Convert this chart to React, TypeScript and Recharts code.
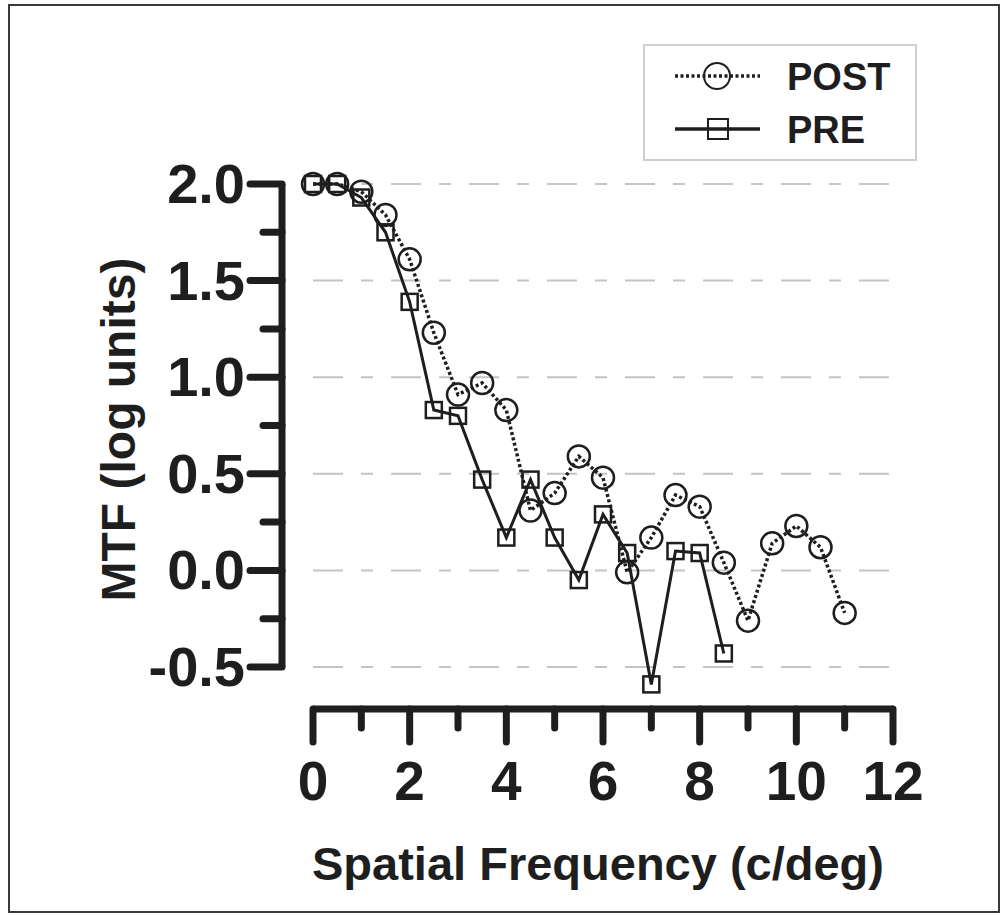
import { LineChart, Line, XAxis, YAxis, CartesianGrid, Legend } from 'recharts'

const FREQ = [0, 0.5, 1, 1.5, 2, 2.5, 3, 3.5, 4, 4.5, 5, 5.5, 6, 6.5, 7, 7.5, 8, 8.5, 9, 9.5, 10, 10.5, 11]
const POST = [2.0, 2.0, 1.96, 1.84, 1.61, 1.23, 0.91, 0.97, 0.83, 0.31, 0.4, 0.59, 0.48, -0.01, 0.17, 0.39, 0.33, 0.04, -0.26, 0.14, 0.23, 0.12, -0.22]
const PRE = [2.0, 2.0, 1.93, 1.75, 1.39, 0.83, 0.8, 0.47, 0.17, 0.47, 0.17, -0.05, 0.29, 0.09, -0.59, 0.1, 0.09, -0.43]

const X_TICKS = [0, 1, 2, 3, 4, 5, 6, 7, 8, 9, 10, 11, 12]
const Y_TICKS = [-0.5, -0.25, 0, 0.25, 0.5, 0.75, 1, 1.25, 1.5, 1.75, 2]
const Y_MAJOR = [-0.5, 0, 0.5, 1, 1.5, 2]
const SERIES_ORDER = ['POST', 'PRE']

const postData = POST.map((v, i) => ({ f: FREQ[i], mtf: v }))
const preData = PRE.map((v, i) => ({ f: FREQ[i], mtf: v }))

const INK = '#1e1e1e'
const FONT = '"Liberation Sans", Arial, Helvetica, sans-serif'

// offset axes (axis lines sit away from the data area)
const X_SHIFT = 42
const Y_SHIFT = 31

const XTick = ({ x, y, payload }: any) => {
  const major = payload.value % 2 === 0
  const y0 = y + X_SHIFT
  return (
    <g>
      <line x1={x} x2={x} y1={y0} y2={y0 + (major ? 33 : 19)} stroke={INK} strokeWidth={7} strokeLinecap="round" />
      {major && (
        <text x={x} y={y0 + 91} textAnchor="middle" fontFamily={FONT} fontWeight="bold" fontSize={55} fill={INK}>
          {payload.value}
        </text>
      )}
    </g>
  )
}

const YTick = ({ x, y, payload }: any) => {
  const major = Y_MAJOR.includes(payload.value)
  const x0 = x - Y_SHIFT
  return (
    <g>
      <line x1={x0} x2={x0 - (major ? 32 : 19)} y1={y} y2={y} stroke={INK} strokeWidth={7} strokeLinecap="round" />
      {major && (
        <text x={x0 - 37} y={y + 19} textAnchor="end" fontFamily={FONT} fontWeight="bold" fontSize={56} fill={INK}>
          {payload.value.toFixed(1)}
        </text>
      )}
    </g>
  )
}

const renderYTitle = ({ viewBox }: any) => {
  const cx = viewBox.x - 64
  const cy = viewBox.y + viewBox.height / 2 + 4
  return (
    <text
      x={cx}
      y={cy}
      transform={`rotate(-90 ${cx} ${cy})`}
      textAnchor="middle"
      dominantBaseline="central"
      fontFamily={FONT}
      fontWeight="bold"
      fontSize={48}
      fill={INK}
    >
      MTF (log units)
    </text>
  )
}

const renderXTitle = ({ viewBox }: any) => (
  <text
    x={viewBox.x + viewBox.width / 2 - 5}
    y={viewBox.y + 171}
    textAnchor="middle"
    fontFamily={FONT}
    fontWeight="bold"
    fontSize={47}
    fill={INK}
  >
    Spatial Frequency (c/deg)
  </text>
)

const CircleDot = ({ cx, cy, index }: any) => (
  <circle key={`c-${index}`} cx={cx} cy={cy} r={11} fill="none" stroke={INK} strokeWidth={2.5} />
)

const SquareDot = ({ cx, cy, index }: any) => (
  <rect key={`s-${index}`} x={cx - 8} y={cy - 8} width={16} height={16} fill="none" stroke={INK} strokeWidth={2.5} />
)

const LegendBox = ({ payload }: any) => {
  const items = [...(payload ?? [])].sort(
    (a: any, b: any) => SERIES_ORDER.indexOf(a.value) - SERIES_ORDER.indexOf(b.value)
  )
  return (
    <div style={{ width: 274, height: 117, border: '2px solid #cfcfcf', boxSizing: 'border-box', background: '#fff' }}>
      <svg width={270} height={113}>
        {items.map((item: any, i: number) => {
          const cy = 30 + i * 53
          const dotted = item.value === 'POST'
          return (
            <g key={item.value}>
              <line
                x1={30}
                x2={115}
                y1={cy}
                y2={cy}
                stroke={INK}
                strokeWidth={3.5}
                strokeDasharray={dotted ? '3 2.5' : undefined}
              />
              {dotted ? (
                <circle cx={72} cy={cy} r={13} fill="none" stroke={INK} strokeWidth={2} />
              ) : (
                <rect x={63} y={cy - 10} width={20} height={20} fill="none" stroke={INK} strokeWidth={2} />
              )}
              <text x={142} y={cy + 13.5} fontFamily={FONT} fontWeight="bold" fontSize={38} fill={INK}>
                {item.value}
              </text>
            </g>
          )
        })}
      </svg>
    </div>
  )
}

export default function App() {
  return (
    <div
      style={{
        position: 'absolute',
        left: 8,
        top: 4,
        width: 992,
        height: 909,
        border: '2px solid #3a3a3a',
        boxSizing: 'border-box',
        background: '#fff',
      }}
    >
      <style>{`
        .recharts-xAxis { transform: translate(0px, ${X_SHIFT}px); }
        .recharts-yAxis { transform: translate(-${Y_SHIFT}px, 0px); }
        .recharts-surface * { clip-path: none !important; }
      `}</style>
      <LineChart width={988} height={905} margin={{ top: 178, right: 105, bottom: 164, left: 203 }}>
        <CartesianGrid
          vertical={false}
          horizontalValues={Y_MAJOR}
          stroke="#c4c4c4"
          strokeWidth={2}
          strokeDasharray="30 18 12 18"
        />
        <XAxis
          type="number"
          dataKey="f"
          domain={[0, 12]}
          ticks={X_TICKS}
          interval={0}
          height={80}
          tickSize={0}
          tickMargin={0}
          tickLine={false}
          axisLine={{ stroke: INK, strokeWidth: 7 }}
          tick={<XTick />}
          label={{ content: renderXTitle }}
        />
        <YAxis
          type="number"
          dataKey="mtf"
          domain={[-0.5, 2]}
          allowDataOverflow
          ticks={Y_TICKS}
          interval={0}
          width={100}
          tickSize={0}
          tickMargin={0}
          tickLine={false}
          axisLine={{ stroke: INK, strokeWidth: 7 }}
          tick={<YTick />}
          label={{ content: renderYTitle }}
        />
        <Legend
          layout="vertical"
          align="center"
          verticalAlign="middle"
          content={<LegendBox />}
          wrapperStyle={{ left: 633, top: 38, width: 274, height: 117 }}
        />
        <Line
          name="POST"
          data={postData}
          dataKey="mtf"
          stroke={INK}
          strokeWidth={3.5}
          strokeDasharray="3 2.5"
          dot={<CircleDot />}
          activeDot={false}
          isAnimationActive={false}
        />
        <Line
          name="PRE"
          data={preData}
          dataKey="mtf"
          stroke={INK}
          strokeWidth={3}
          dot={<SquareDot />}
          activeDot={false}
          isAnimationActive={false}
        />
      </LineChart>
    </div>
  )
}
